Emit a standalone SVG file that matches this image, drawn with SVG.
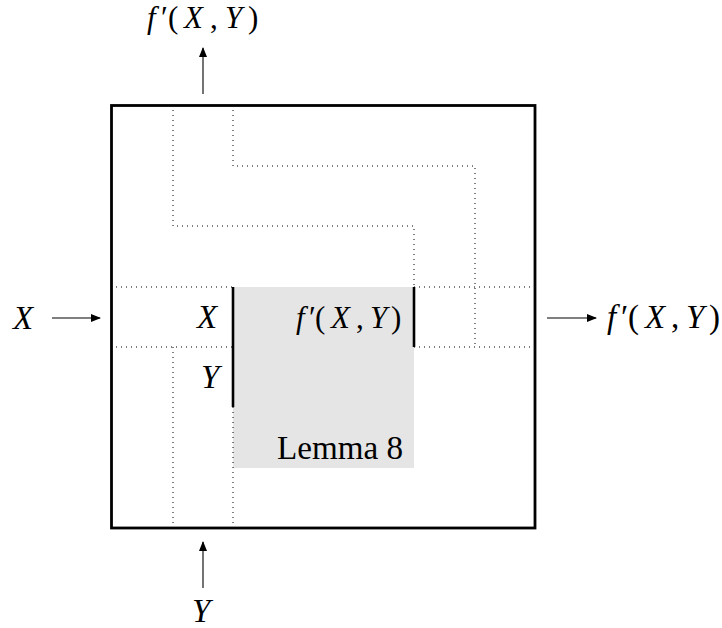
<svg xmlns="http://www.w3.org/2000/svg" width="722" height="628" viewBox="0 0 722 628">
<defs>
<marker id="ah" markerWidth="10" markerHeight="8" refX="9" refY="4" orient="auto" markerUnits="userSpaceOnUse">
<path d="M0,0 L10,4 L0,8 Z" fill="#000"/>
</marker>
<style>
.dot{fill:none;stroke:#000;stroke-width:1;stroke-dasharray:1 4}
.thick{fill:none;stroke:#000;stroke-width:2.6}
.arr{fill:none;stroke:#000;stroke-width:1.1;marker-end:url(#ah)}
.t{font-family:'Liberation Serif','Times New Roman',serif;font-size:33px;fill:#000}
.s{font-size:31px}
.i{font-style:italic}
</style>
</defs>
<rect width="722" height="628" fill="#fff"/>
<g id="lemma">
<rect x="233" y="287" width="181" height="181" fill="#e5e5e5"/>
<text class="t" x="277" y="459" font-family="Liberation Serif, serif" font-size="32" textLength="126" lengthAdjust="spacingAndGlyphs">Lemma 8</text>
</g>
<g id="wires">
<path class="dot" d="M173,105 V226 H414 V287"/>
<path class="dot" d="M233,105 V166 H475 V347"/>
<path class="dot" d="M111,287 H233 M414,287 H535"/>
<path class="dot" d="M111,347 H233 M414,347 H535"/>
<path class="dot" d="M173,347 V528"/>
<path class="dot" d="M233,407 V528"/>
</g>
<g id="ports">
<line class="thick" x1="233" y1="287" x2="233" y2="407"/>
<line class="thick" x1="414" y1="287" x2="414" y2="347"/>
<text class="t i" x="197" y="328" font-family="Liberation Serif, serif">X</text>
<text class="t i" x="201" y="388" font-family="Liberation Serif, serif">Y</text>
<text class="t s" y="328" font-family="Liberation Serif, serif"><tspan class="i" x="296">f</tspan><tspan x="309">′</tspan><tspan x="315">(</tspan><tspan class="i" x="331">X</tspan><tspan x="356">,</tspan><tspan class="i" x="370">Y</tspan><tspan x="391">)</tspan></text>
</g>
<g id="box">
<rect x="111.5" y="105.5" width="423.5" height="422.5" fill="none" stroke="#000" stroke-width="2.8"/>
</g>
<g id="connectors">
<line class="arr" x1="203" y1="94" x2="203" y2="48"/>
<line class="arr" x1="52" y1="318" x2="100" y2="318"/>
<line class="arr" x1="547" y1="318" x2="596" y2="318"/>
<line class="arr" x1="203" y1="588" x2="203" y2="542"/>
</g>
<g id="labels">
<text class="t" y="28" font-family="Liberation Serif, serif" style="font-size:31px"><tspan class="i" x="147">f</tspan><tspan x="161">′</tspan><tspan x="168">(</tspan><tspan class="i" x="184">X</tspan><tspan x="210">,</tspan><tspan class="i" x="225">Y</tspan><tspan x="248">)</tspan></text>
<text class="t i" x="13" y="329" font-family="Liberation Serif, serif">X</text>
<text class="t" y="328" font-family="Liberation Serif, serif"><tspan class="i" x="607">f</tspan><tspan x="621">′</tspan><tspan x="628">(</tspan><tspan class="i" x="645">X</tspan><tspan x="671">,</tspan><tspan class="i" x="686">Y</tspan><tspan x="709">)</tspan></text>
<text class="t i" x="192" y="622" font-family="Liberation Serif, serif">Y</text>
</g>
</svg>
